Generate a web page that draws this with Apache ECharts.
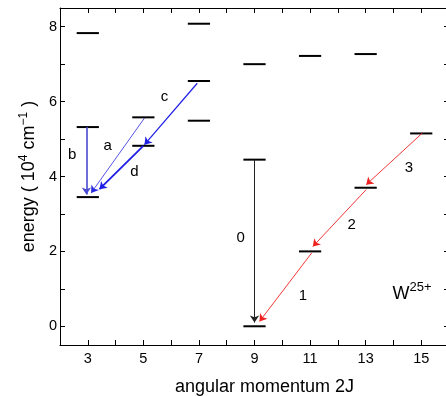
<!DOCTYPE html>
<html>
<head>
<meta charset="utf-8">
<script src="https://cdn.jsdelivr.net/npm/echarts@6/dist/echarts.min.js"></script>
<style>
  html, body { margin: 0; padding: 0; background: #fff; }
  #chart { width: 446px; height: 396px; }
</style>
</head>
<body>
<div id="chart"></div>
<script>
// energy levels: 2J and energy (10^4 cm^-1)
const levelJ = [3, 3, 3, 5, 5, 7, 7, 7, 9, 9, 9, 11, 11, 13, 13, 15];
const levelE = [7.83, 5.32, 3.45, 5.58, 4.82, 8.08, 6.55, 5.49, 7.0, 4.45, 0, 7.22, 2.0, 7.27, 3.70, 5.15];

// transitions (arrows)
const transName = ['a', 'b', 'c', 'd', '0', '1', '2', '3'];
const fromJ = [5.04, 2.95, 6.94, 5.0, 9.0, 11.06, 13.02, 15.04];
const fromE = [5.56, 5.32, 6.49, 4.82, 4.45, 1.96, 3.65, 5.16];
const toJ = [3.12, 2.95, 5.04, 3.42, 9.0, 9.18, 11.1, 13.02];
const toE = [3.56, 3.52, 4.85, 3.66, 0.1, 0.13, 2.13, 3.78];
const labelJ = [3.72, 2.44, 5.76, 4.68, 8.5, 10.74, 12.5, 14.56];
const labelE = [4.83, 4.58, 6.13, 4.12, 2.37, 0.82, 2.71, 4.24];

// axis ticks
const xTicks = [2, 3, 4, 5, 6, 7, 8, 9, 10, 11, 12, 13, 14, 15, 16];
const xLabels = [3, 5, 7, 9, 11, 13, 15];
const yTicks = [0, 1, 2, 3, 4, 5, 6, 7, 8];
const yLabels = [0, 2, 4, 6, 8];

const arrowColor = ['#2a2ae0', '#4a4ad0', '#1e1ee6', '#1e1ee6', '#222', '#ee2020', '#ee2020', '#ee2020'];
const arrowWidth = [0.8, 1.6, 1.2, 1.8, 1, 0.9, 0.9, 0.9];

const chart = echarts.init(document.getElementById('chart'), null, { renderer: 'canvas' });

const font = 'Liberation Sans, Arial, sans-serif';

const axisBase = {
  type: 'value',
  axisLine: { show: true, onZero: false, lineStyle: { color: '#000', width: 1 } },
  axisTick: { show: true, inside: true, length: 5, lineStyle: { color: '#000' } },
  splitLine: { show: false }
};

const option = {
  backgroundColor: '#fff',
  animation: false,
  grid: { left: 60, right: -3, top: 8, bottom: 51, outerBoundsMode: 'none', containLabel: false },
  xAxis: [
    Object.assign({}, axisBase, {
      min: 2, max: 16,
      axisTick: Object.assign({}, axisBase.axisTick, { customValues: xTicks }),
      axisLabel: { customValues: xLabels, color: '#000', fontSize: 14.5, fontFamily: font, margin: 6 },
      name: 'angular momentum 2J',
      nameLocation: 'middle',
      nameGap: 33,
      nameTextStyle: { color: '#000', fontSize: 18, fontFamily: font, padding: [0, 0, 0, 20] }
    }),
    Object.assign({}, axisBase, {
      position: 'top', min: 2, max: 16,
      axisTick: Object.assign({}, axisBase.axisTick, { customValues: xTicks }),
      axisLabel: { show: false }
    })
  ],
  yAxis: [
    Object.assign({}, axisBase, {
      min: -0.5, max: 8.5,
      axisTick: Object.assign({}, axisBase.axisTick, { customValues: yTicks }),
      axisLabel: { customValues: yLabels, color: '#000', fontSize: 14.5, fontFamily: font, margin: 3 },
      name: '{t|energy ( 10}{s|4}{t| cm}{s|−1}{t| )}',
      nameLocation: 'middle',
      nameGap: 19,
      nameTextStyle: {
        rich: {
          t: { color: '#000', fontSize: 18, fontFamily: font },
          s: { color: '#000', fontSize: 12, fontFamily: font, padding: [0, 0, 11, 0] }
        }
      }
    }),
    Object.assign({}, axisBase, {
      position: 'right', min: -0.5, max: 8.5,
      axisTick: Object.assign({}, axisBase.axisTick, { customValues: yTicks }),
      axisLabel: { show: false }
    })
  ],
  series: [
    {
      type: 'custom',
      name: 'levels',
      data: levelJ.map((j, i) => [j, levelE[i]]),
      renderItem: function (params, api) {
        const j = api.value(0), e = api.value(1);
        const p1 = api.coord([j - 0.4, e]);
        const p2 = api.coord([j + 0.4, e]);
        return {
          type: 'line',
          shape: { x1: p1[0], y1: p1[1], x2: p2[0], y2: p2[1] },
          style: { stroke: '#000', lineWidth: 2 }
        };
      },
      z: 3
    },
    {
      type: 'lines',
      coordinateSystem: 'cartesian2d',
      symbol: ['none', 'arrow'],
      symbolSize: 7,
      lineStyle: { opacity: 1 },
      data: transName.map((n, i) => ({
        coords: [[fromJ[i], fromE[i]], [toJ[i], toE[i]]],
        lineStyle: { color: arrowColor[i], width: arrowWidth[i], opacity: 1 }
      })),
      z: 4
    },
    {
      type: 'scatter',
      symbolSize: 0,
      itemStyle: { opacity: 1 },
      data: transName.map((n, i) => ({ value: [labelJ[i], labelE[i]], name: n })),
      label: {
        show: true,
        position: 'inside',
        formatter: '{b}',
        color: '#000',
        fontSize: 15,
        fontFamily: font
      },
      z: 5
    },
    {
      type: 'scatter',
      symbolSize: 0,
      itemStyle: { opacity: 1 },
      data: [{ value: [14.67, 0.87], name: 'W25+' }],
      label: {
        show: true,
        position: 'inside',
        formatter: '{w|W}{s|25+}',
        rich: {
          w: { color: '#000', fontSize: 18, fontFamily: font },
          s: { color: '#000', fontSize: 13, fontFamily: font, padding: [0, 0, 12, 0] }
        }
      },
      z: 5
    }
  ]
};

chart.setOption(option);
</script>
</body>
</html>
